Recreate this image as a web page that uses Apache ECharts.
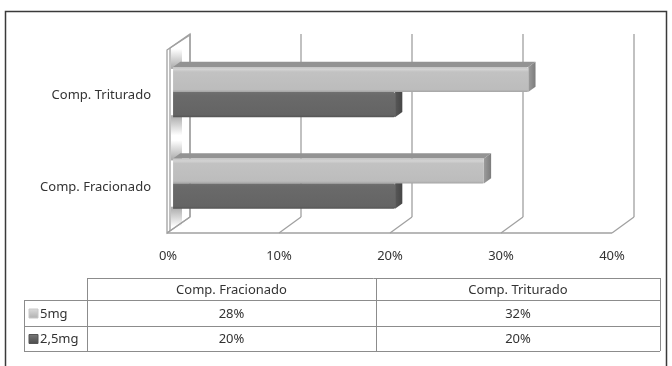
<!DOCTYPE html>
<html>
<head>
<meta charset="utf-8">
<script src="https://cdn.jsdelivr.net/npm/echarts@6/dist/echarts.min.js"></script>
<style>
  html, body { margin: 0; padding: 0; background: #ffffff; }
  #chart { width: 672px; height: 366px; }
</style>
</head>
<body>
<div id="chart"></div>
<script>
// Categories on the vertical axis (bottom to top) and series values in percent
const categories = ['Comp. Fracionado', 'Comp. Triturado'];
const seriesNames = ['5mg', '2,5mg'];
const values5mg = [28, 32];
const values25mg = [20, 20];
const xTicks = [0, 10, 20, 30, 40];

const FONT = 'Noto Sans';
const TEXT = '#333333';
const GRID_LINE = '#a0a0a0';

// Depth of the 3D box (back wall offset) and of the bars inside it
const DX = 22, DY = -16;
const F1 = 0.23, F2 = 0.56;

const chart = echarts.init(document.getElementById('chart'));

// Back wall gridlines, floor diagonals and left side wall
function renderWalls(params, api) {
  const v = api.value(0);
  const c0 = api.coord([v, 0]);
  const band = api.size([0, 1])[1];
  const bottom = c0[1] + band / 2;
  const top = api.coord([v, 1])[1] - band / 2;
  const x = c0[0];
  const children = [];
  const ls = { stroke: GRID_LINE, lineWidth: 1.3, fill: null };
  if (params.dataIndex === 0) {
    const xEnd = api.coord([xTicks[xTicks.length - 1], 0])[0];
    children.push({
      type: 'polygon',
      shape: { points: [[x - 1, top], [x + DX, top + DY], [x + DX, bottom + DY], [x - 1, bottom]] },
      style: { fill: '#ffffff', stroke: GRID_LINE, lineWidth: 1.3 }
    });
    children.push({
      type: 'polyline',
      shape: { points: [[x + 2, top - 2], [x + DX, top + DY + 1]] },
      style: ls
    });
    children.push({
      type: 'line',
      shape: { x1: x + 2, y1: top - 2, x2: x + 2, y2: bottom - 2 },
      style: ls
    });
    children.push({
      type: 'line',
      shape: { x1: x - 1, y1: bottom, x2: xEnd, y2: bottom },
      style: ls
    });
    children.push({
      type: 'line',
      shape: { x1: x - 1, y1: bottom, x2: x + DX, y2: bottom + DY },
      style: ls
    });
  } else {
    children.push({
      type: 'line',
      shape: { x1: x, y1: bottom, x2: x + DX, y2: bottom + DY },
      style: ls
    });
  }
  children.push({
    type: 'line',
    shape: { x1: x + DX, y1: top + DY, x2: x + DX, y2: bottom + DY },
    style: ls
  });
  return { type: 'group', children: children };
}

// 3D bar: front face, top face and end face, plus a soft shadow on the side wall
function makeBarRenderer(slot, palette) {
  return function (params, api) {
    const v = api.value(0);
    const ci = api.value(1);
    const p0 = api.coord([0, ci]);
    const p1 = api.coord([v, ci]);
    const band = api.size([0, 1])[1];
    const h = band * 0.275;
    const yt = slot === 0 ? p0[1] - h : p0[1];
    const yb = yt + h;
    const ox1 = DX * F1, oy1 = DY * F1, ox2 = DX * F2, oy2 = DY * F2;
    const xa = p0[0] + ox1, xb = p1[0] + ox1;
    const ya = yt + oy1, yb1 = yb + oy1;
    const children = [];
    // shadow on the side wall
    const shY = slot === 0 ? ya - 18 : yb1 - 2;
    children.push({
      type: 'rect',
      shape: { x: p0[0] + 3, y: shY, width: 11, height: 20 },
      style: {
        fill: new echarts.graphic.LinearGradient(0, slot === 0 ? 0 : 1, 0, slot === 0 ? 1 : 0, [
          { offset: 0, color: 'rgba(140,140,140,0)' },
          { offset: 1, color: 'rgba(140,140,140,0.75)' }
        ])
      }
    });
    // top face
    children.push({
      type: 'polygon',
      shape: { points: [[xa, ya], [xb, ya], [xb + ox2 - ox1, ya + oy2 - oy1], [xa + ox2 - ox1, ya + oy2 - oy1]] },
      style: { fill: palette.top }
    });
    // end face
    children.push({
      type: 'polygon',
      shape: { points: [[xb, ya], [xb + ox2 - ox1, ya + oy2 - oy1], [xb + ox2 - ox1, yb1 + oy2 - oy1], [xb, yb1]] },
      style: {
        fill: new echarts.graphic.LinearGradient(0, 0, 1, 0, [
          { offset: 0, color: palette.side[0] },
          { offset: 1, color: palette.side[1] }
        ])
      }
    });
    // front face
    children.push({
      type: 'rect',
      shape: { x: xa, y: ya, width: xb - xa, height: yb1 - ya, r: [0, 1.5, 1.5, 0] },
      style: {
        fill: new echarts.graphic.LinearGradient(0, 0, 0, 1, palette.front)
      }
    });
    return { type: 'group', children: children };
  };
}

const lightPalette = {
  top: '#939393',
  side: ['#9c9c9c', '#7c7c7c'],
  front: [
    { offset: 0, color: '#c4c4c4' },
    { offset: 0.1, color: '#d3d3d3' },
    { offset: 0.2, color: '#c2c2c2' },
    { offset: 0.9, color: '#bcbcbc' },
    { offset: 1, color: '#a4a4a4' }
  ]
};
const darkPalette = {
  top: '#7a7a7a',
  side: ['#585858', '#464646'],
  front: [
    { offset: 0, color: '#707070' },
    { offset: 0.12, color: '#6a6a6a' },
    { offset: 0.9, color: '#646464' },
    { offset: 1, color: '#545454' }
  ]
};

// Data table under the chart
const tbl = {
  left: 24, labelRight: 87, mid: 376, right: 660,
  rows: [278, 300, 326, 351]
};
function tableGraphics() {
  const g = [];
  const line = (x1, y1, x2, y2) => g.push({
    type: 'line', shape: { x1: x1, y1: y1, x2: x2, y2: y2 },
    style: { stroke: '#8c8c8c', lineWidth: 1 }
  });
  const r = tbl.rows;
  line(tbl.labelRight, r[0] + 0.5, tbl.right, r[0] + 0.5);
  line(tbl.left, r[1] + 0.5, tbl.right, r[1] + 0.5);
  line(tbl.left, r[2] + 0.5, tbl.right, r[2] + 0.5);
  line(tbl.left, r[3] + 0.5, tbl.right, r[3] + 0.5);
  line(tbl.left + 0.5, r[1], tbl.left + 0.5, r[3]);
  line(tbl.labelRight + 0.5, r[0], tbl.labelRight + 0.5, r[3]);
  line(tbl.mid + 0.5, r[0], tbl.mid + 0.5, r[3]);
  line(tbl.right + 0.5, r[0], tbl.right + 0.5, r[3]);
  const colCenters = [(tbl.labelRight + tbl.mid) / 2, (tbl.mid + tbl.right) / 2];
  const txt = (x, y, s, align) => g.push({
    type: 'text', x: x, y: y,
    style: { text: s, fill: TEXT, font: '13px "' + FONT + '"', align: align || 'center', verticalAlign: 'middle' }
  });
  categories.forEach((c, i) => txt(colCenters[i], (r[0] + r[1]) / 2 + 1, c));
  const rowsData = [values5mg, values25mg];
  const keyColors = [
    [{ offset: 0, color: '#dcdcdc' }, { offset: 1, color: '#b0b0b0' }],
    [{ offset: 0, color: '#7a7a7a' }, { offset: 1, color: '#4a4a4a' }]
  ];
  rowsData.forEach((vals, ri) => {
    const cy = (r[ri + 1] + r[ri + 2]) / 2 + 1;
    g.push({
      type: 'rect', shape: { x: 29, y: cy - 5, width: 9, height: 9 },
      style: { fill: new echarts.graphic.LinearGradient(0, 0, 0, 1, keyColors[ri]), stroke: ri === 0 ? '#c8c8c8' : '#555555', lineWidth: 1 }
    });
    txt(40, cy, seriesNames[ri], 'left');
    vals.forEach((v, ci) => txt(colCenters[ci], cy, v + '%'));
  });
  // chart area frame
  g.push({
    type: 'rect', shape: { x: 5.5, y: 11.5, width: 661, height: 400 },
    style: { fill: null, stroke: '#3a3a3a', lineWidth: 1.5 }, z: 10
  });
  return g;
}

chart.setOption({
  animation: false,
  backgroundColor: '#ffffff',
  grid: { left: 168, right: 60, top: 50, bottom: 133 },
  xAxis: {
    type: 'value', min: 0, max: 40, interval: 10,
    axisLine: { show: false }, axisTick: { show: false }, splitLine: { show: false },
    axisLabel: { formatter: '{value}%', color: TEXT, fontFamily: FONT, fontSize: 13, margin: 17 }
  },
  yAxis: {
    type: 'category', data: categories,
    axisLine: { show: false }, axisTick: { show: false }, splitLine: { show: false },
    axisLabel: { color: TEXT, fontFamily: FONT, fontSize: 13, margin: 17 }
  },
  graphic: tableGraphics(),
  series: [
    {
      type: 'custom', name: 'walls', renderItem: renderWalls,
      data: xTicks.map(v => [v]), silent: true, clip: false
    },
    {
      type: 'custom', name: seriesNames[1], renderItem: makeBarRenderer(1, darkPalette),
      data: values25mg.map((v, i) => [v, i]), encode: { x: 0, y: 1 }, clip: false
    },
    {
      type: 'custom', name: seriesNames[0], renderItem: makeBarRenderer(0, lightPalette),
      data: values5mg.map((v, i) => [v, i]), encode: { x: 0, y: 1 }, clip: false
    }
  ]
});
</script>
</body>
</html>
